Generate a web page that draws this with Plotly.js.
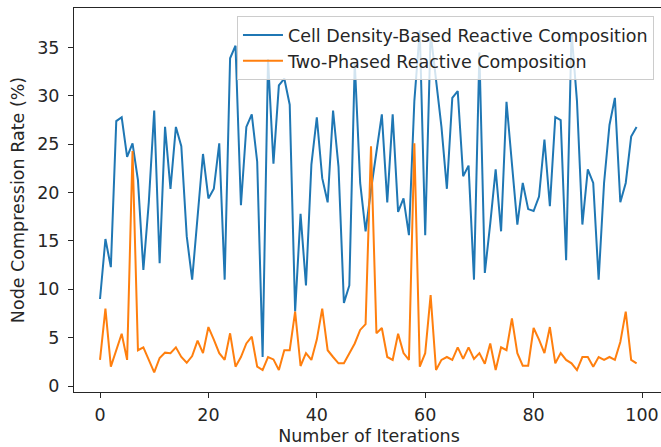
<!DOCTYPE html>
<html>
<head>
<meta charset="utf-8">
<script src="https://cdn.plot.ly/plotly-3.0.1.min.js"></script>
<style>html,body{margin:0;padding:0;background:#fff;overflow:hidden;}#chart{width:664px;height:447px;}</style>
</head>
<body>
<div id="chart"></div>
<script>
const iterations = Array.from({length: 100}, (_, i) => i);
const cellDensityRate = [
  9.0, 15.2, 12.3, 27.4, 27.8, 23.7, 25.1, 21.3, 12.0, 19.0,
  28.5, 12.7, 26.8, 20.4, 26.8, 24.8, 15.5, 11.0, 17.5, 24.0,
  19.4, 20.4, 25.1, 11.0, 33.9, 35.2, 18.7, 26.8, 28.1, 23.2,
  3.0, 33.8, 23.0, 31.1, 31.8, 29.1, 7.7, 17.8, 10.4, 22.9,
  27.8, 21.5, 19.0, 28.5, 22.7, 8.6, 10.4, 33.5, 21.0, 16.0,
  20.3, 24.3, 28.1, 19.0, 28.1, 18.0, 19.4, 15.6, 29.5, 36.8,
  15.6, 36.5, 31.5, 26.8, 20.4, 29.8, 30.5, 21.7, 22.8, 11.0,
  34.5, 11.7, 16.8, 22.4, 16.0, 29.4, 23.0, 16.7, 21.0, 18.3,
  18.1, 19.6, 25.5, 18.6, 27.8, 27.5, 13.0, 36.6, 29.5, 16.7,
  22.4, 21.0, 11.0, 21.0, 27.0, 29.8, 19.0, 21.0, 25.8, 26.8
];
const twoPhasedRate = [
  2.7, 8.0, 2.0, 3.7, 5.4, 2.7, 24.3, 3.7, 4.0, 2.7,
  1.4, 2.9, 3.45, 3.4, 4.0, 3.0, 2.4, 3.1, 4.7, 3.4,
  6.1, 4.8, 3.4, 2.7, 5.45, 2.0, 3.0, 4.4, 5.1, 2.0,
  1.65, 3.0, 2.75, 1.65, 3.7, 3.7, 7.7, 2.07, 3.4, 2.7,
  4.8, 8.0, 3.7, 3.0, 2.35, 2.35, 3.4, 4.4, 5.8, 6.4,
  24.8, 5.45, 6.0, 3.0, 2.7, 5.4, 3.4, 2.7, 25.1, 2.0,
  3.4, 9.4, 1.65, 2.7, 3.0, 2.7, 4.0, 2.8, 4.0, 2.8,
  3.4, 2.3, 4.4, 1.65, 4.0, 3.7, 7.0, 3.4, 2.1, 2.1,
  6.0, 4.8, 3.4, 6.1, 2.35, 3.4, 2.7, 2.35, 1.65, 3.0,
  3.0, 2.0, 3.0, 2.7, 3.0, 2.7, 4.55, 7.7, 2.7, 2.35
];
const seriesNames = ["Cell Density-Based Reactive Composition", "Two-Phased Reactive Composition"];
const xTicks = [0, 20, 40, 60, 80, 100];
const yTicks = [0, 5, 10, 15, 20, 25, 30, 35];

const font = {family: "DejaVu Sans", size: 17.5, color: "#262626"};
const traces = [
  {x: iterations, y: cellDensityRate, name: seriesNames[0], type: "scatter", mode: "lines",
   line: {color: "#1f77b4", width: 2}},
  {x: iterations, y: twoPhasedRate, name: seriesNames[1], type: "scatter", mode: "lines",
   line: {color: "#ff7f0e", width: 2}}
];
const axisCommon = {
  showline: true, mirror: true, linecolor: "#262626", linewidth: 1,
  ticks: "outside", ticklen: 5, tickwidth: 1, tickcolor: "#262626",
  showgrid: false, zeroline: false, tickfont: font
};
const layout = {
  width: 664, height: 447,
  margin: {l: 74, r: 0, t: 8, b: 55},
  paper_bgcolor: "#fff", plot_bgcolor: "#fff",
  font: font,
  showlegend: true,
  legend: {x: 0.983, y: 0.979, xanchor: "right", yanchor: "top",
    bgcolor: "rgba(255,255,255,0.8)", bordercolor: "#cccccc", borderwidth: 1,
    font: font, tracegroupgap: 0, itemwidth: 40},
  xaxis: Object.assign({}, axisCommon, {range: [-4.8, 104.06], tickvals: xTicks, ticklabelstandoff: 2,
    title: {text: "Number of Iterations", font: font, standoff: 5}}),
  yaxis: Object.assign({}, axisCommon, {range: [-0.62, 39.1], tickvals: yTicks, ticklabelstandoff: 5,
    title: {text: "Node Compression Rate (%)", font: font, standoff: 8}})
};
Plotly.newPlot("chart", traces, layout, {displayModeBar: false, staticPlot: true});
</script>
</body>
</html>
